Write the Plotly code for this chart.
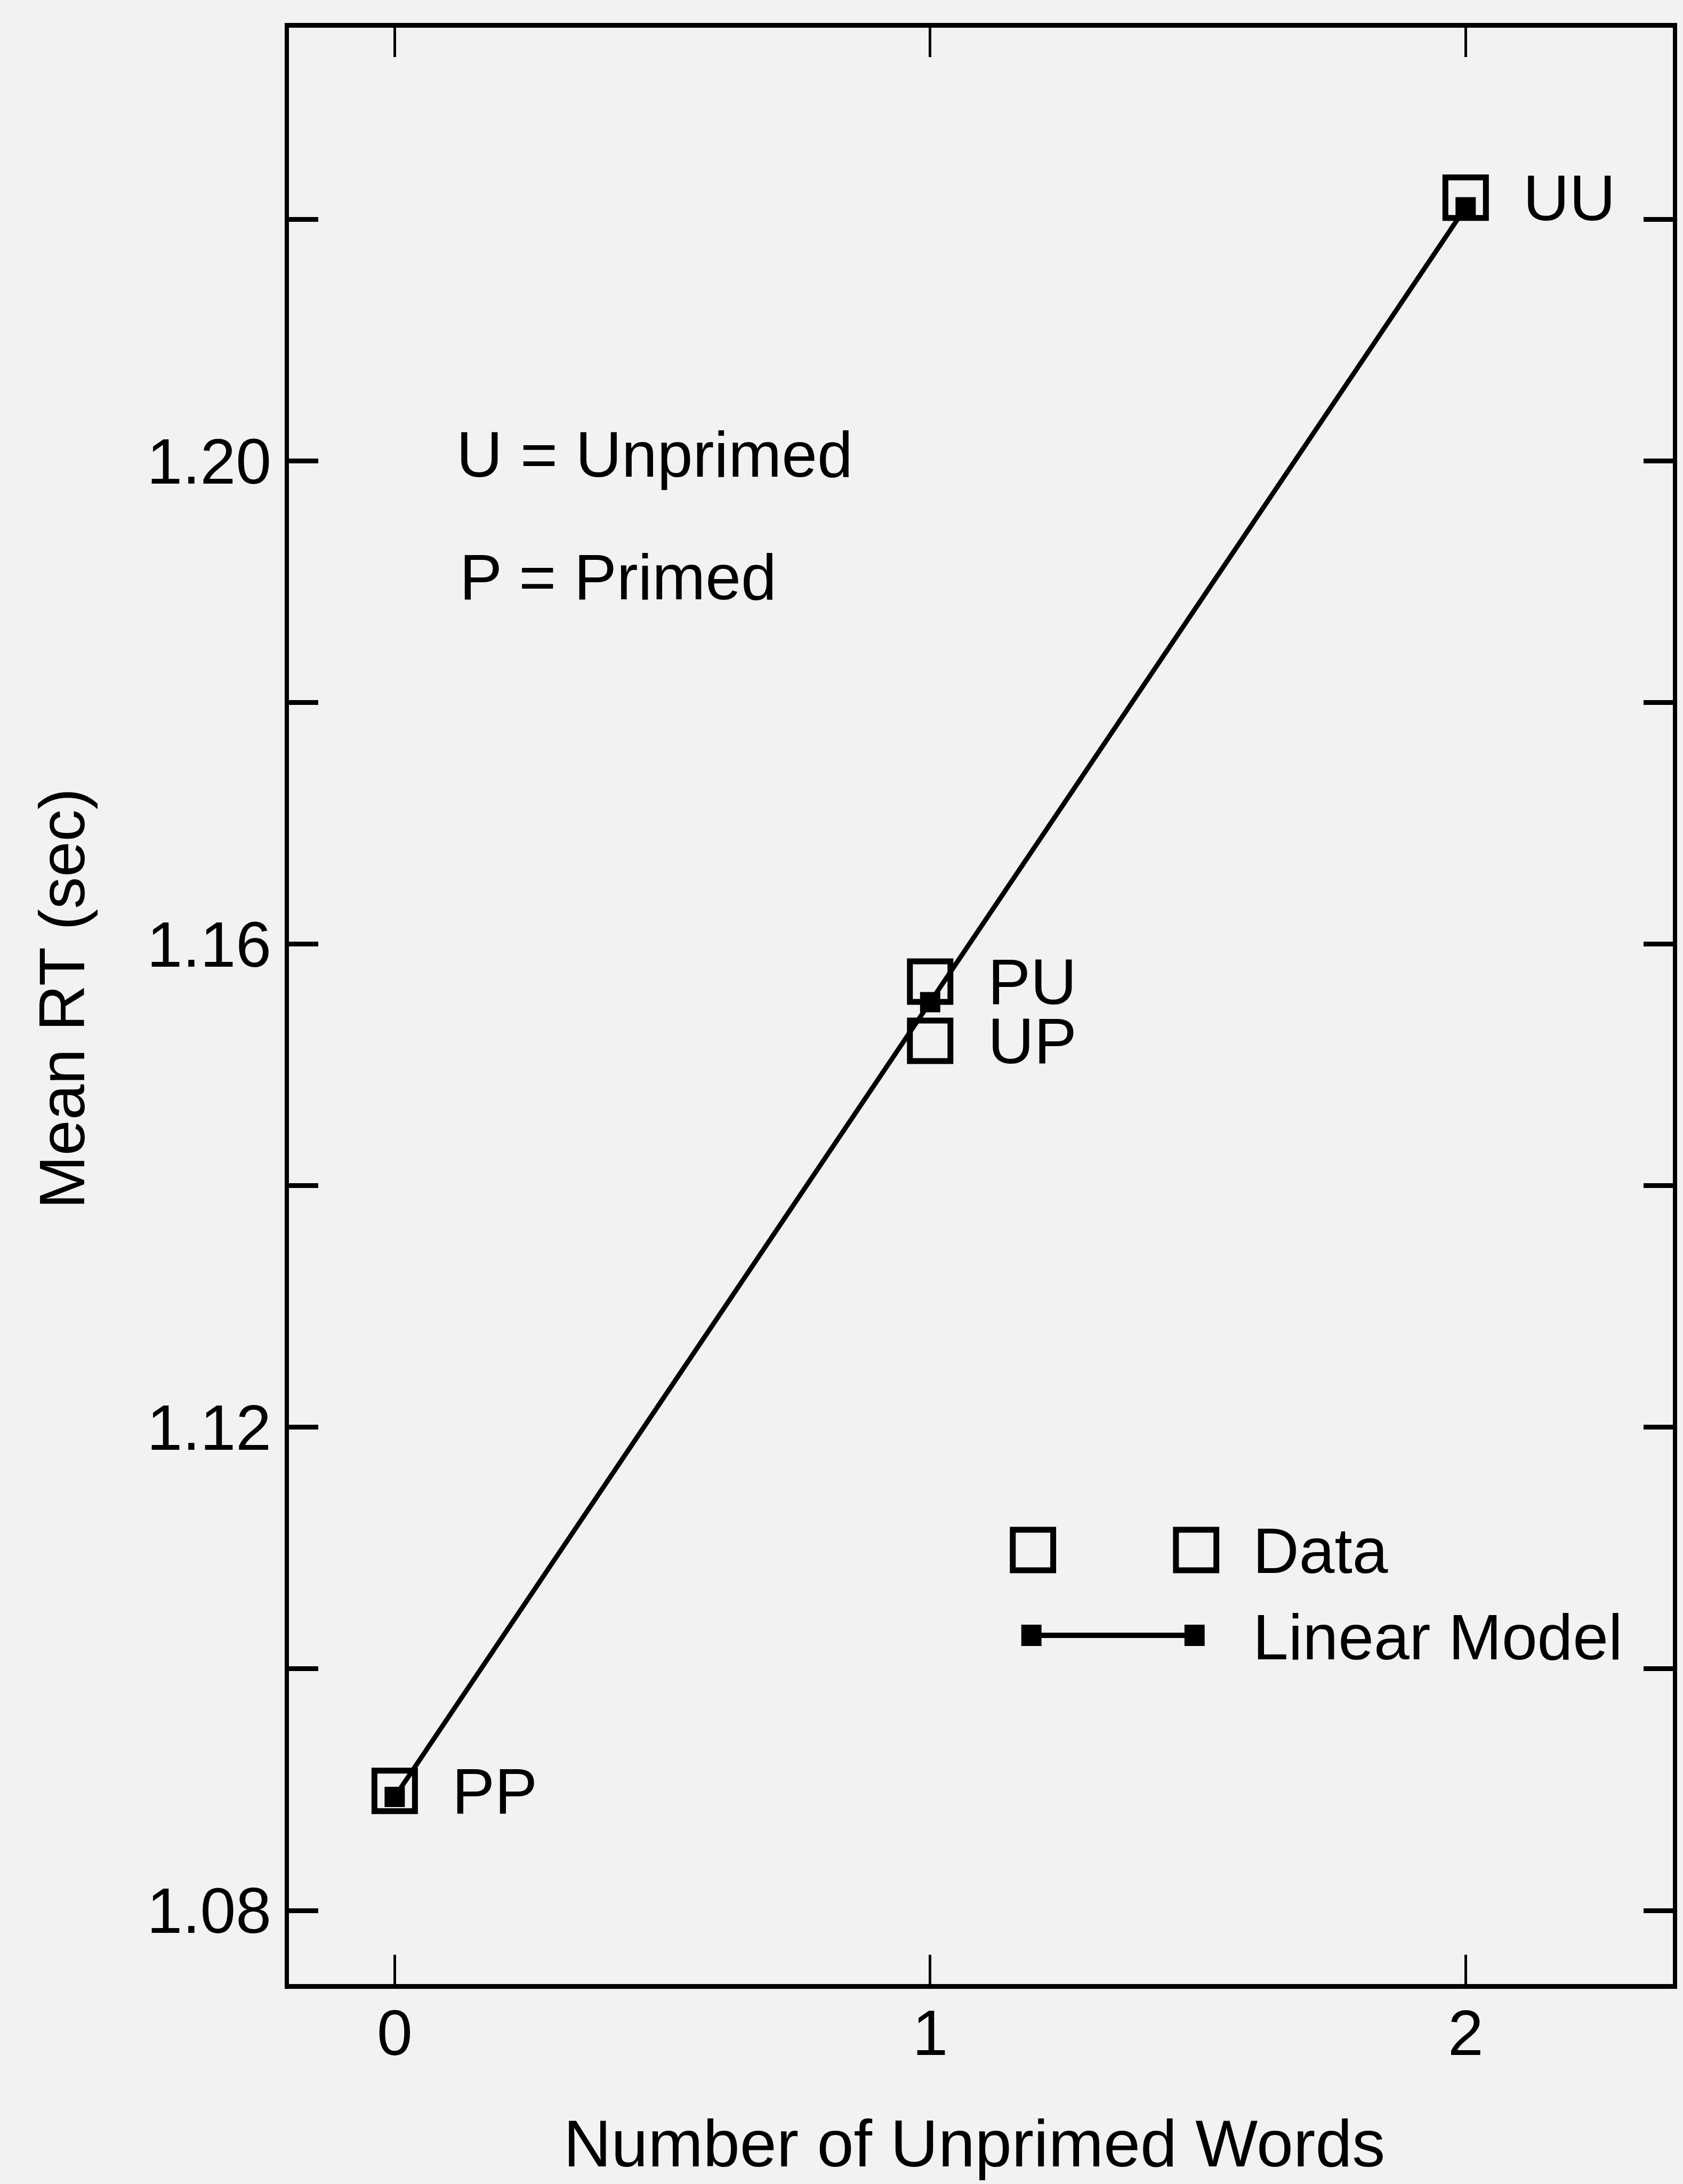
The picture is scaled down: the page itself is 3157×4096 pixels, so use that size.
import plotly.graph_objects as go

# ---- data ----
words = [0, 1, 1, 2]
conditions = ["PP", "PU", "UP", "UU"]
mean_rt = [1.0899, 1.1569, 1.1520, 1.2218]

model_words = [0, 1, 2]
model_rt = [1.0894, 1.1552, 1.2210]

y_ticks = [1.08, 1.10, 1.12, 1.14, 1.16, 1.18, 1.20, 1.22]
y_tick_labels = ["1.08", "", "1.12", "", "1.16", "", "1.20", ""]
x_ticks = [0, 1, 2]
x_tick_labels = ["0", "1", "2"]

legend_labels = ["Data", "Linear Model"]
key_lines = ["U = Unprimed", "P = Primed"]
x_title = "Number of Unprimed Words"
y_title = "Mean RT (sec)"

# ---- layout geometry (output pixels) ----
W, H = 3157, 4096
L, R, T, B = 542, 3146, 52, 3721
FONT = "Liberation Sans, Arial, Helvetica, sans-serif"
FS = 120
INK = "black"
BG = "#f2f2f2"


def px(x):
    return (x - L) / (R - L)


def py(y):
    return (B - y) / (B - T)


fig = go.Figure()

fig.add_trace(go.Scatter(
    x=words, y=mean_rt, mode="markers",
    marker=dict(symbol="square-open", size=76, color=INK, line=dict(width=11, color=INK)),
    showlegend=False, hoverinfo="skip"))

fig.add_trace(go.Scatter(
    x=model_words, y=model_rt, mode="lines+markers",
    line=dict(color=INK, width=9),
    marker=dict(symbol="square", size=38, color=INK),
    showlegend=False, hoverinfo="skip"))

annotations = []
for xv, yv, lab in zip(words, mean_rt, conditions):
    annotations.append(dict(x=xv, y=yv, xref="x", yref="y", text=lab, showarrow=False,
                            xanchor="left", yanchor="middle", xshift=106,
                            font=dict(family=FONT, size=FS, color=INK)))

# key text
annotations.append(dict(x=px(855), y=py(852), xref="paper", yref="paper", text=key_lines[0],
                        showarrow=False, xanchor="left", yanchor="middle",
                        font=dict(family=FONT, size=FS, color=INK)))
annotations.append(dict(x=px(861), y=py(1082), xref="paper", yref="paper", text=key_lines[1],
                        showarrow=False, xanchor="left", yanchor="middle",
                        font=dict(family=FONT, size=FS, color=INK)))

# legend text
annotations.append(dict(x=px(2354), y=py(2908), xref="paper", yref="paper", text=legend_labels[0],
                        showarrow=False, xanchor="left", yanchor="middle",
                        font=dict(family=FONT, size=FS, color=INK)))
annotations.append(dict(x=px(2354), y=py(3070), xref="paper", yref="paper", text=legend_labels[1],
                        showarrow=False, xanchor="left", yanchor="middle",
                        font=dict(family=FONT, size=FS, color=INK)))

# axis titles
annotations.append(dict(x=px(1831), y=py(4020), xref="paper", yref="paper", text=x_title,
                        showarrow=False, xanchor="center", yanchor="middle",
                        font=dict(family=FONT, size=124, color=INK)))
annotations.append(dict(x=px(115), y=py(1873), xref="paper", yref="paper", text=y_title,
                        showarrow=False, xanchor="center", yanchor="middle", textangle=-90,
                        font=dict(family=FONT, size=FS, color=INK)))

shapes = []
# legend: open squares for Data
for cx in (1942, 2249):
    shapes.append(dict(type="rect", xref="paper", yref="paper",
                       x0=px(cx - 38), x1=px(cx + 38), y0=py(2907 + 38), y1=py(2907 - 38),
                       line=dict(color=INK, width=11), fillcolor="rgba(0,0,0,0)"))
# legend: line with filled squares for model
shapes.append(dict(type="line", xref="paper", yref="paper",
                   x0=px(1939), x1=px(2246), y0=py(3067), y1=py(3067),
                   line=dict(color=INK, width=10)))
for cx in (1939, 2246):
    shapes.append(dict(type="rect", xref="paper", yref="paper",
                       x0=px(cx - 19), x1=px(cx + 19), y0=py(3067 + 20), y1=py(3067 - 20),
                       line=dict(color=INK, width=0), fillcolor=INK))

fig.update_layout(
    width=W, height=H,
    margin=dict(l=L, r=W - R, t=T, b=H - B, pad=0),
    paper_bgcolor=BG, plot_bgcolor=BG,
    annotations=annotations, shapes=shapes,
    font=dict(family=FONT, size=FS, color=INK),
    xaxis=dict(range=[-0.1975, 2.387], tickvals=x_ticks, ticktext=x_tick_labels,
               ticks="inside", ticklen=55, tickwidth=5, tickcolor=INK,
               showline=True, linewidth=9, linecolor=INK, mirror="ticks",
               showgrid=False, zeroline=False, ticklabelstandoff=-20,
               tickfont=dict(family=FONT, size=FS, color=INK)),
    yaxis=dict(range=[1.07391, 1.23587], tickvals=y_ticks, ticktext=y_tick_labels,
               ticks="inside", ticklen=55, tickwidth=9, tickcolor=INK,
               showline=True, linewidth=8, linecolor=INK, mirror="ticks",
               showgrid=False, zeroline=False, ticklabelstandoff=1,
               tickfont=dict(family=FONT, size=FS, color=INK)),
)

fig.write_html("out.html")
